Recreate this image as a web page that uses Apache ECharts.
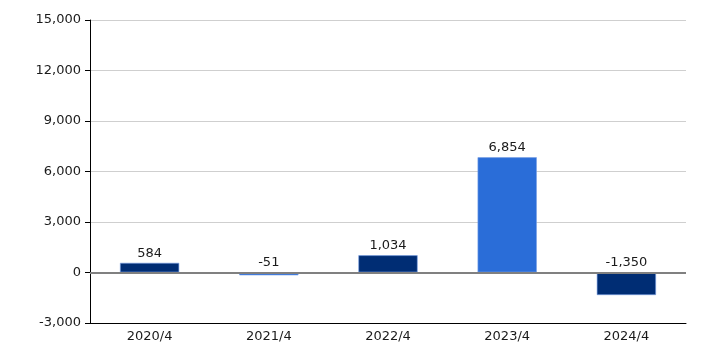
<!DOCTYPE html>
<html>
<head>
<meta charset="utf-8">
<script src="https://cdn.jsdelivr.net/npm/echarts@6/dist/echarts.min.js"></script>
<style>
  html, body { margin: 0; padding: 0; background: #fff; }
  #chart { width: 706px; height: 353px; }
</style>
</head>
<body>
<div id="chart"></div>
<script>
var categories = ['2020/4', '2021/4', '2022/4', '2023/4', '2024/4'];
var values = [584, -51, 1034, 6854, -1350];
var barColors = ['#002d74', '#2a6dd8', '#002d74', '#2a6dd8', '#002d74'];
var yTicks = { min: -3000, max: 15000, interval: 3000 };

var fontFamily = '"DejaVu Sans", Verdana, sans-serif';

function fmt(v) {
    return String(v).replace(/\B(?=(\d{3})+(?!\d))/g, ',');
}

var chart = echarts.init(document.getElementById('chart'));
chart.setOption({
    animation: false,
    grid: { left: 90, right: 20, top: 20, bottom: 30, containLabel: false },
    xAxis: {
        type: 'category',
        data: categories,
        axisLine: { onZero: false, lineStyle: { color: '#000', width: 1 } },
        axisTick: { alignWithLabel: true, length: 5, lineStyle: { color: '#000' } },
        axisLabel: { color: '#1a1a1a', fontSize: 13, fontFamily: fontFamily, margin: 7 }
    },
    yAxis: {
        type: 'value',
        min: yTicks.min,
        max: yTicks.max,
        interval: yTicks.interval,
        axisLine: { show: true, lineStyle: { color: '#000', width: 1 } },
        axisTick: { show: true, length: 5, lineStyle: { color: '#000' } },
        axisLabel: {
            color: '#1a1a1a', fontSize: 13, fontFamily: fontFamily, margin: 9,
            formatter: function (v) { return fmt(v); }
        },
        splitLine: { lineStyle: { color: '#cfcfcf', width: 1 } }
    },
    series: [{
        type: 'bar',
        barWidth: '50%',
        barMinHeight: 3,
        data: values.map(function (v, i) {
            return {
                value: v,
                itemStyle: { color: barColors[i], borderColor: 'rgba(120,160,230,0.6)', borderWidth: 1 }
            };
        }),
        label: {
            show: true,
            position: 'top',
            distance: 3,
            color: '#1a1a1a',
            fontSize: 13,
            fontFamily: fontFamily,
            formatter: function (p) { return fmt(p.value); }
        },
        markLine: {
            silent: true,
            symbol: 'none',
            label: { show: false },
            lineStyle: { color: '#808080', width: 2, type: 'solid' },
            data: [{ yAxis: 0 }]
        }
    }]
});
</script>
</body>
</html>
